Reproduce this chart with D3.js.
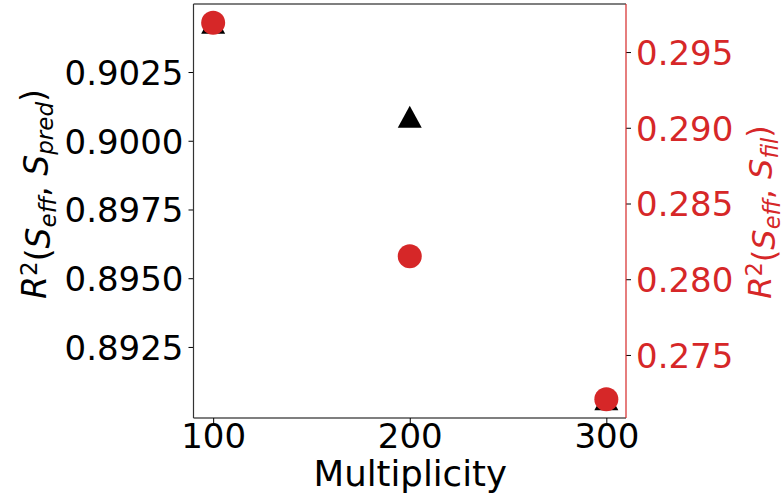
<!DOCTYPE html>
<html>
<head>
<meta charset="utf-8">
<script src="https://cdn.jsdelivr.net/npm/d3@7"></script>
<style>
    body { margin: 0; background: #ffffff; }
    text { font-family: "DejaVu Sans", sans-serif; }
</style>
</head>
<body>
<svg id="chart"></svg>
<script>
//the data
var multiplicity = [100, 200, 300];
var r2Pred = [0.90429, 0.90087, 0.89060];//black triangles, left axis
var r2Fil = [0.29693, 0.28152, 0.27208];//red circles, right axis
var leftTicks = [0.8925, 0.8950, 0.8975, 0.9000, 0.9025];
var rightTicks = [0.275, 0.280, 0.285, 0.290, 0.295];
var xTicks = [100, 200, 300];

function runScript () {

    var width = 784;
    var height = 493;

    //plot box
    var left = 193.5;
    var right = 626;
    var top = 4;
    var bottom = 418;

    var red = "#d62728";
    var fontSize = "34px";

    var svg = d3.select("#chart")
        .attr("width", width)
        .attr("height", height);

    //matplotlib style 5% margin on the data range
    function padded (values) {
        var lo = d3.min(values);
        var hi = d3.max(values);
        var pad = (hi - lo) * 0.05;
        return [lo - pad, hi + pad];
    }

    var xScale = d3.scaleLinear().domain(padded(multiplicity)).range([left, right]);
    var yLeft = d3.scaleLinear().domain(padded(r2Pred)).range([bottom, top]);
    var yRight = d3.scaleLinear().domain(padded(r2Fil)).range([bottom, top]);

    var xAxis = d3.axisBottom(xScale).tickValues(xTicks).tickSize(5).tickPadding(5)
        .tickFormat(d3.format("d"));
    var leftAxis = d3.axisLeft(yLeft).tickValues(leftTicks).tickSize(5).tickPadding(5)
        .tickFormat(d3.format(".4f"));
    var rightAxis = d3.axisRight(yRight).tickValues(rightTicks).tickSize(5).tickPadding(5)
        .tickFormat(d3.format(".3f"));

    var gx = svg.append("g")
        .attr("transform", "translate(0," + bottom + ")")
        .call(xAxis);
    var gl = svg.append("g")
        .attr("transform", "translate(" + left + ",0)")
        .call(leftAxis);
    var gr = svg.append("g")
        .attr("transform", "translate(" + right + ",0)")
        .call(rightAxis);

    //style the axes, drop the d3 domain lines, spines are drawn below
    [gx, gl, gr].forEach(function (g) {
        g.select(".domain").remove();
        g.selectAll("line").attr("stroke", "#000").attr("stroke-width", 1);
        g.selectAll("text")
            .attr("fill", "#000")
            .style("font-size", fontSize)
            .style("font-family", "DejaVu Sans");
    });
    gr.selectAll("text").attr("fill", red);
    gl.selectAll("text").attr("dy", "0.36em");
    gr.selectAll("text").attr("dy", "0.36em");
    gx.selectAll("text").attr("dy", "0.58em");

    //triangles first, the twin axis circles sit on top of them
    function trianglePath (cx, cy) {
        var w = 12;
        var h = 11;
        return "M" + cx + "," + (cy - h) + "L" + (cx - w) + "," + (cy + h) + "L" + (cx + w) + "," + (cy + h) + "Z";
    }

    svg.selectAll(".tri")
        .data(multiplicity)
        .enter()
        .append("path")
        .attr("class", "tri")
        .attr("d", function (d, i) {
            return trianglePath(xScale(d), yLeft(r2Pred[i]));
        })
        .attr("fill", "#000");

    svg.selectAll(".dot")
        .data(multiplicity)
        .enter()
        .append("circle")
        .attr("class", "dot")
        .attr("cx", function (d) { return xScale(d); })
        .attr("cy", function (d, i) { return yRight(r2Fil[i]); })
        .attr("r", 12)
        .attr("fill", red);

    //spines
    svg.append("line").attr("x1", left).attr("x2", right).attr("y1", top).attr("y2", top)
        .attr("stroke", "#000").attr("stroke-width", 1.2);
    svg.append("line").attr("x1", left).attr("x2", right).attr("y1", bottom).attr("y2", bottom)
        .attr("stroke", "#000").attr("stroke-width", 1.2);
    svg.append("line").attr("x1", left).attr("x2", left).attr("y1", top).attr("y2", bottom)
        .attr("stroke", "#333").attr("stroke-width", 1.2);
    svg.append("line").attr("x1", right).attr("x2", right).attr("y1", top).attr("y2", bottom)
        .attr("stroke", red).attr("stroke-width", 1.2);

    //x label
    svg.append("text")
        .attr("x", (left + right) / 2 + 0.5)
        .attr("y", 486)
        .attr("text-anchor", "middle")
        .style("font-size", "35.5px")
        .attr("fill", "#000")
        .text("Multiplicity");

    //mathtext style y labels: R^2(S_eff, S_sub)
    function mathLabel (x, y, sub, color, size, small) {
        var t = svg.append("text")
            .attr("transform", "translate(" + x + "," + y + ") rotate(-90)")
            .attr("text-anchor", "middle")
            .style("font-size", size)
            .attr("fill", color);
        t.append("tspan").style("font-style", "italic").text("R");
        t.append("tspan").attr("dy", "-0.4em").style("font-size", small).text("2");
        t.append("tspan").attr("dy", "0.4em").text("(");
        t.append("tspan").style("font-style", "italic").text("S");
        t.append("tspan").attr("dy", "0.25em").style("font-size", small).style("font-style", "italic").text("eff");
        t.append("tspan").attr("dy", "-0.25em").text(", ");
        t.append("tspan").style("font-style", "italic").text("S");
        t.append("tspan").attr("dy", "0.25em").style("font-size", small).style("font-style", "italic").text(sub);
        t.append("tspan").attr("dy", "-0.25em").text(")");
        return t;
    }

    mathLabel(46, 194, "pred", "#000", "33px", "23px");
    mathLabel(771, 212, "fil", red, "32px", "22.5px");
}

window.onload = runScript;
</script>
</body>
</html>
